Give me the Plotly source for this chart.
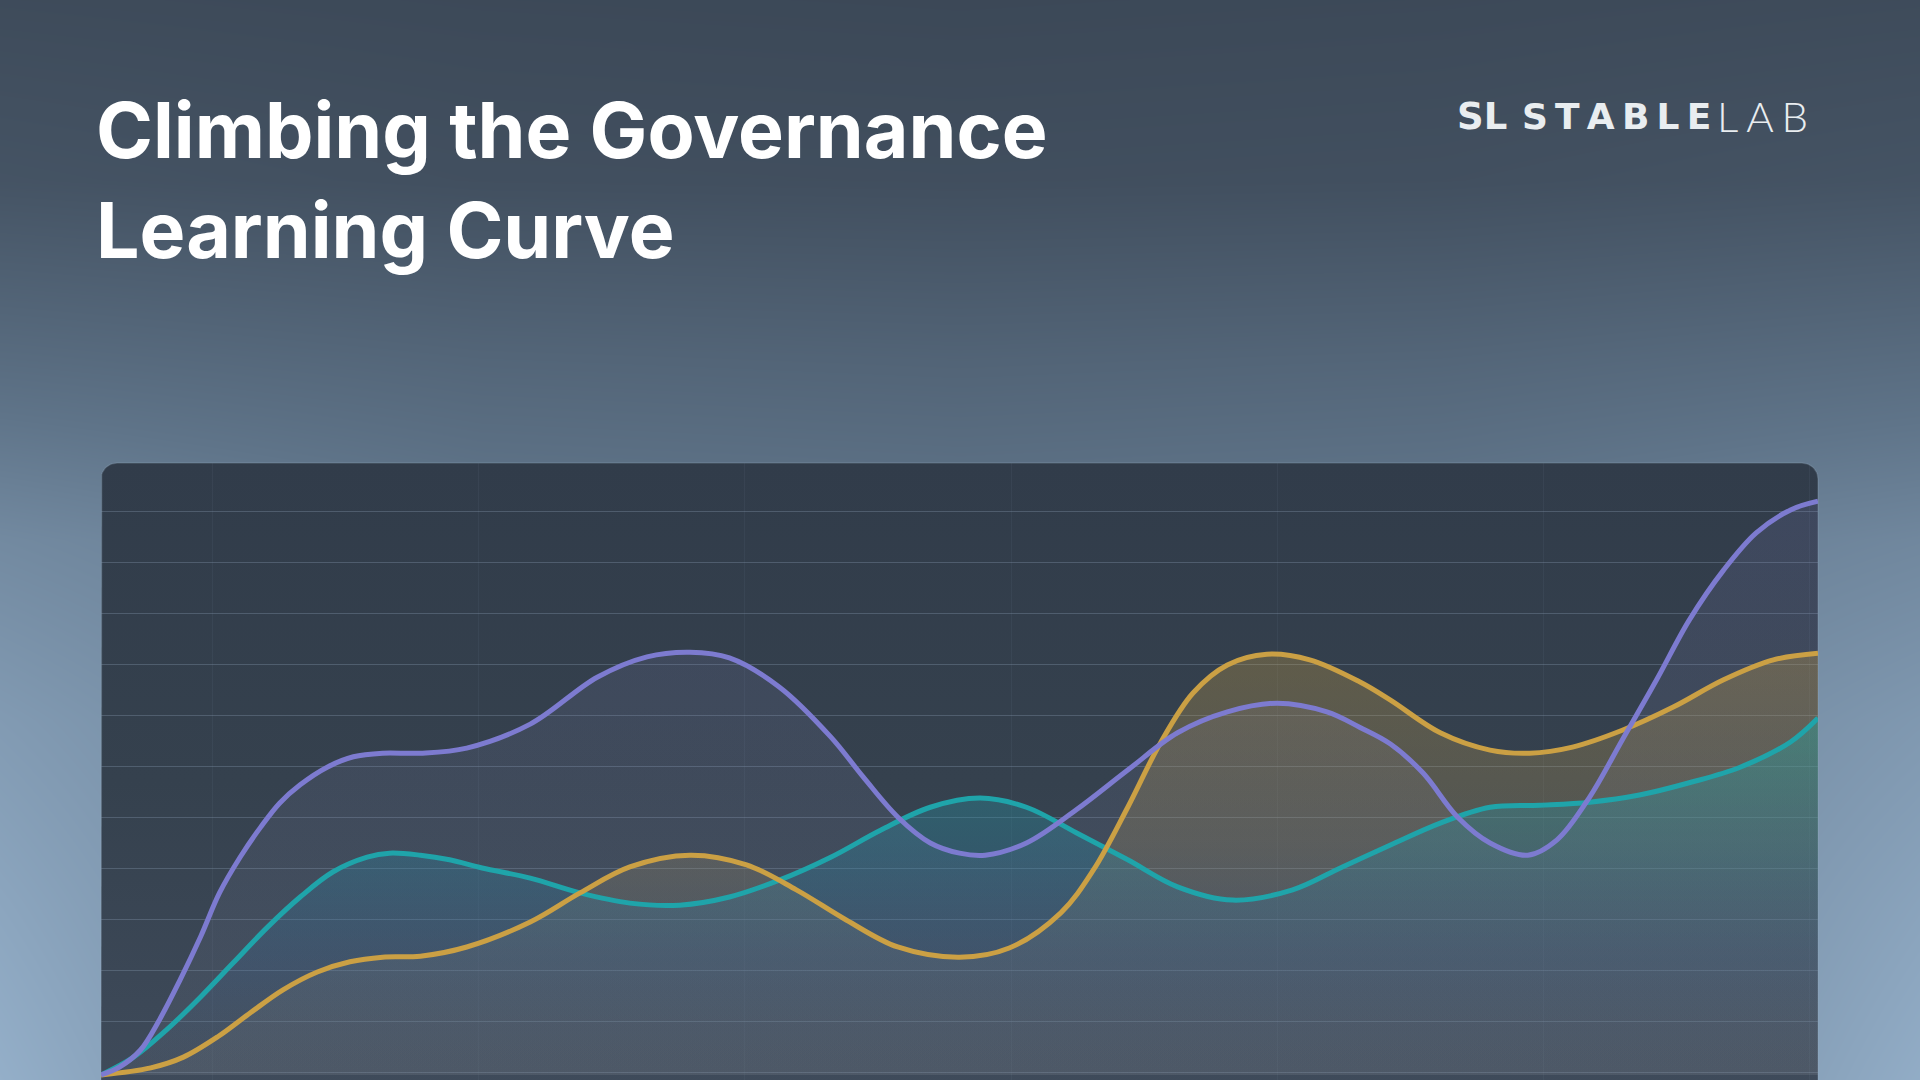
import numpy as np
import plotly.graph_objects as go

# ---------------- data (x: progress 0-100, y: score) ----------------
purple_x = [0.0, 1.1, 2.3, 3.4, 4.6, 5.8, 6.9, 8.1, 9.3, 10.4, 11.6, 13.2, 14.7, 16.4, 18.6,
            21.3, 25.0, 28.9, 31.8, 34.3, 36.6, 39.5, 42.5, 44.4, 46.4, 48.3, 50.0, 51.5, 53.9,
            56.8, 59.8, 62.7, 65.6, 68.5, 71.4, 73.3, 75.1, 77.0, 79.0, 80.9, 83.1, 84.8, 86.7,
            88.6, 90.6, 92.5, 94.5, 96.4, 98.4, 100.0]
purple_y = [0.0, 1.6, 4.9, 10.8, 18.6, 27.1, 35.7, 42.7, 48.6, 53.3, 56.9, 60.4, 62.4, 63.1, 63.1,
            64.1, 68.8, 78.0, 82.0, 82.9, 81.8, 76.1, 66.3, 58.4, 50.6, 45.5, 43.5, 43.1, 45.5,
            52.0, 59.8, 67.1, 71.2, 72.9, 71.2, 68.2, 64.9, 59.2, 50.6, 45.5, 43.1, 46.1, 54.5,
            65.7, 77.5, 89.2, 99.0, 106.3, 110.8, 112.5]

teal_x = [0.0, 1.9, 3.8, 5.8, 7.7, 9.7, 11.6, 13.5, 15.5, 16.8, 18.6, 20.3, 22.2, 25.0, 27.9,
          30.8, 33.7, 36.6, 39.5, 42.5, 45.4, 48.3, 51.2, 53.9, 56.8, 59.8, 62.7, 65.9, 69.4,
          72.3, 75.1, 78.0, 80.9, 83.8, 86.7, 89.6, 92.5, 95.5, 98.4, 100.0]
teal_y = [0.0, 3.5, 8.8, 15.3, 22.0, 29.0, 34.9, 39.8, 42.7, 43.5, 43.1, 42.2, 40.6, 38.6, 35.7,
          33.7, 33.3, 34.9, 38.2, 42.7, 48.0, 52.5, 54.3, 52.5, 47.5, 42.2, 36.9, 34.3, 36.3,
          40.8, 45.1, 49.4, 52.5, 52.9, 53.5, 54.9, 57.3, 60.4, 65.3, 70.0]

gold_x = [0.0, 2.9, 4.8, 6.8, 8.7, 10.6, 12.6, 14.5, 16.4, 18.6, 21.3, 25.0, 27.9, 30.8, 34.3,
          37.6, 40.5, 43.4, 46.4, 50.0, 52.9, 55.9, 57.8, 59.8, 61.7, 63.6, 65.6, 67.9, 70.4,
          73.3, 75.1, 78.0, 80.9, 83.2, 85.7, 88.6, 91.6, 94.5, 97.4, 100.0]
gold_y = [0.0, 1.4, 3.5, 7.5, 12.2, 16.7, 20.2, 22.2, 23.1, 23.3, 25.1, 30.0, 35.7, 40.8, 43.1,
          41.2, 36.3, 30.4, 25.1, 23.1, 24.9, 31.8, 40.2, 52.5, 65.1, 74.9, 80.4, 82.5, 81.4,
          77.1, 73.5, 67.1, 63.7, 63.1, 64.3, 67.6, 72.2, 77.5, 81.4, 82.7]

title_text = "Climbing the Governance<br>Learning Curve"
TS = "\u2009"  # letter spacing helper for the wordmark
logo_mark = "SL"
logo_word1 = TS.join("STABLE")
logo_word2 = (TS + "\u200a").join("LAB")

# ---------------- styling / layout constants ----------------
W, H = 1920, 1080
PX0, PX1, PY0, RAD = 101, 1818, 463, 16

PURPLE = "#7d7bd0"
TEAL = "#1fa4aa"
GOLD = "#cba044"

fig = go.Figure()

# background gradient (pixel-space axes x/y)
bg_x = [0, 480, 960, 1440, 1920]
bg_y = [0, 180, 360, 540, 720, 900, 1080]
bg_z = [
    [0.10, 0.08, 0.07, 0.08, 0.10],
    [0.18, 0.14, 0.13, 0.14, 0.18],
    [0.42, 0.36, 0.34, 0.36, 0.42],
    [0.68, 0.55, 0.52, 0.55, 0.66],
    [0.82, 0.60, 0.55, 0.60, 0.80],
    [0.91, 0.60, 0.55, 0.60, 0.89],
    [0.99, 0.60, 0.55, 0.60, 0.97],
]
fig.add_trace(go.Heatmap(
    x=bg_x, y=bg_y, z=bg_z, zsmooth="best", zmin=0, zmax=1, showscale=False,
    colorscale=[[0, "#36414f"], [0.5, "#5f7489"], [1, "#95b0ca"]],
    hoverinfo="skip", xaxis="x", yaxis="y"))

# chart panel (rounded top corners); gradient runs bottom (0) -> top (1) on screen
t = np.linspace(np.pi, 1.5 * np.pi, 12)
left_arc_x = PX0 + RAD + RAD * np.cos(t)
left_arc_y = PY0 + RAD + RAD * np.sin(t)
t2 = np.linspace(1.5 * np.pi, 2 * np.pi, 12)
right_arc_x = PX1 - RAD + RAD * np.cos(t2)
right_arc_y = PY0 + RAD + RAD * np.sin(t2)
panel_x = [PX0] + list(left_arc_x) + list(right_arc_x) + [PX1, PX0]
panel_y = [H + 20] + list(left_arc_y) + list(right_arc_y) + [H + 20, H + 20]
fig.add_trace(go.Scatter(
    x=panel_x, y=panel_y, mode="lines", fill="toself",
    line=dict(color="rgba(160,180,200,0.22)", width=1.5),
    fillgradient=dict(type="vertical",
                      colorscale=[[0, "#3f4b5b"], [0.5, "#35414e"], [1, "#313c4a"]]),
    hoverinfo="skip", xaxis="x", yaxis="y", showlegend=False))

# fills (chart axes x2/y2)
fig.add_trace(go.Scatter(
    x=purple_x, y=purple_y, mode="lines", line=dict(width=0, shape="spline", smoothing=1.0),
    fill="tozeroy",
    fillgradient=dict(type="vertical", start=0, stop=112.5,
                      colorscale=[[0, "rgba(135,145,160,0.10)"], [1, "rgba(135,135,205,0.15)"]]),
    hoverinfo="skip", xaxis="x2", yaxis="y2", showlegend=False))
fig.add_trace(go.Scatter(
    x=gold_x, y=gold_y, mode="lines", line=dict(width=0, shape="spline", smoothing=1.0),
    fill="tozeroy",
    fillgradient=dict(type="vertical", start=0, stop=83,
                      colorscale=[[0, "rgba(125,132,140,0.14)"], [0.3, "rgba(138,136,122,0.18)"],
                                  [0.55, "rgba(175,150,95,0.24)"], [1, "rgba(201,160,67,0.30)"]]),
    hoverinfo="skip", xaxis="x2", yaxis="y2", showlegend=False))
fig.add_trace(go.Scatter(
    x=teal_x, y=teal_y, mode="lines", line=dict(width=0, shape="spline", smoothing=1.0),
    fill="tozeroy",
    fillgradient=dict(type="vertical", start=0, stop=70,
                      colorscale=[[0, "rgba(70,100,130,0.0)"], [0.3, "rgba(55,105,160,0.18)"],
                                  [0.6, "rgba(40,135,165,0.30)"], [1, "rgba(35,170,165,0.40)"]]),
    hoverinfo="skip", xaxis="x2", yaxis="y2", showlegend=False))

# lines
for xs, ys, col in [(teal_x, teal_y, TEAL), (gold_x, gold_y, GOLD), (purple_x, purple_y, PURPLE)]:
    fig.add_trace(go.Scatter(
        x=xs, y=ys, mode="lines", line=dict(color=col, width=5, shape="spline", smoothing=1.0),
        hoverinfo="skip", xaxis="x2", yaxis="y2", showlegend=False))

# texts
fig.add_annotation(
    x=94, y=81, xref="x", yref="y", xanchor="left", yanchor="top", align="left",
    text=title_text, showarrow=False,
    font=dict(family="Inter", size=77, color="#ffffff", weight="bold"))
fig.add_annotation(
    x=1455, y=116, xref="x", yref="y", xanchor="left", yanchor="middle",
    text=logo_mark, showarrow=False,
    font=dict(family="DejaVu Sans", size=37, color="#e9edf0", weight="bold"))
fig.add_annotation(
    x=1713, y=116, xref="x", yref="y", xanchor="right", yanchor="middle",
    text=logo_word1, showarrow=False,
    font=dict(family="DejaVu Sans", size=36, color="#e9edf0", weight="bold"))
fig.add_annotation(
    x=1715, y=116, xref="x", yref="y", xanchor="left", yanchor="middle",
    text=logo_word2, showarrow=False,
    font=dict(family="Lato", size=42, color="#e9edf0", weight=300))

fig.update_layout(
    width=W, height=H, margin=dict(l=0, r=0, t=0, b=0),
    paper_bgcolor="#3a4656", plot_bgcolor="rgba(0,0,0,0)",
    showlegend=False, hovermode=False,
    xaxis=dict(domain=[0, 1], range=[0, W], visible=False, fixedrange=True),
    yaxis=dict(domain=[0, 1], range=[H, 0], visible=False, fixedrange=True),
    xaxis2=dict(domain=[PX0 / W, PX1 / W], range=[0, 100], anchor="y2",
                showgrid=True, gridcolor="rgba(120,140,160,0.10)", gridwidth=1,
                tick0=6.5, dtick=15.5, showticklabels=False, zeroline=False,
                showline=False, ticks="", fixedrange=True),
    yaxis2=dict(domain=[0, (H - PY0) / H], range=[-0.98, 120], anchor="x2",
                showgrid=True, gridcolor="rgba(125,145,165,0.38)", gridwidth=1.2,
                tick0=0.5, dtick=10, showticklabels=False, zeroline=False,
                showline=False, ticks="", fixedrange=True),
)

fig.write_html("out.html", config={"displayModeBar": False},
               post_script="document.body.style.margin='0';document.body.style.overflow='hidden';")
